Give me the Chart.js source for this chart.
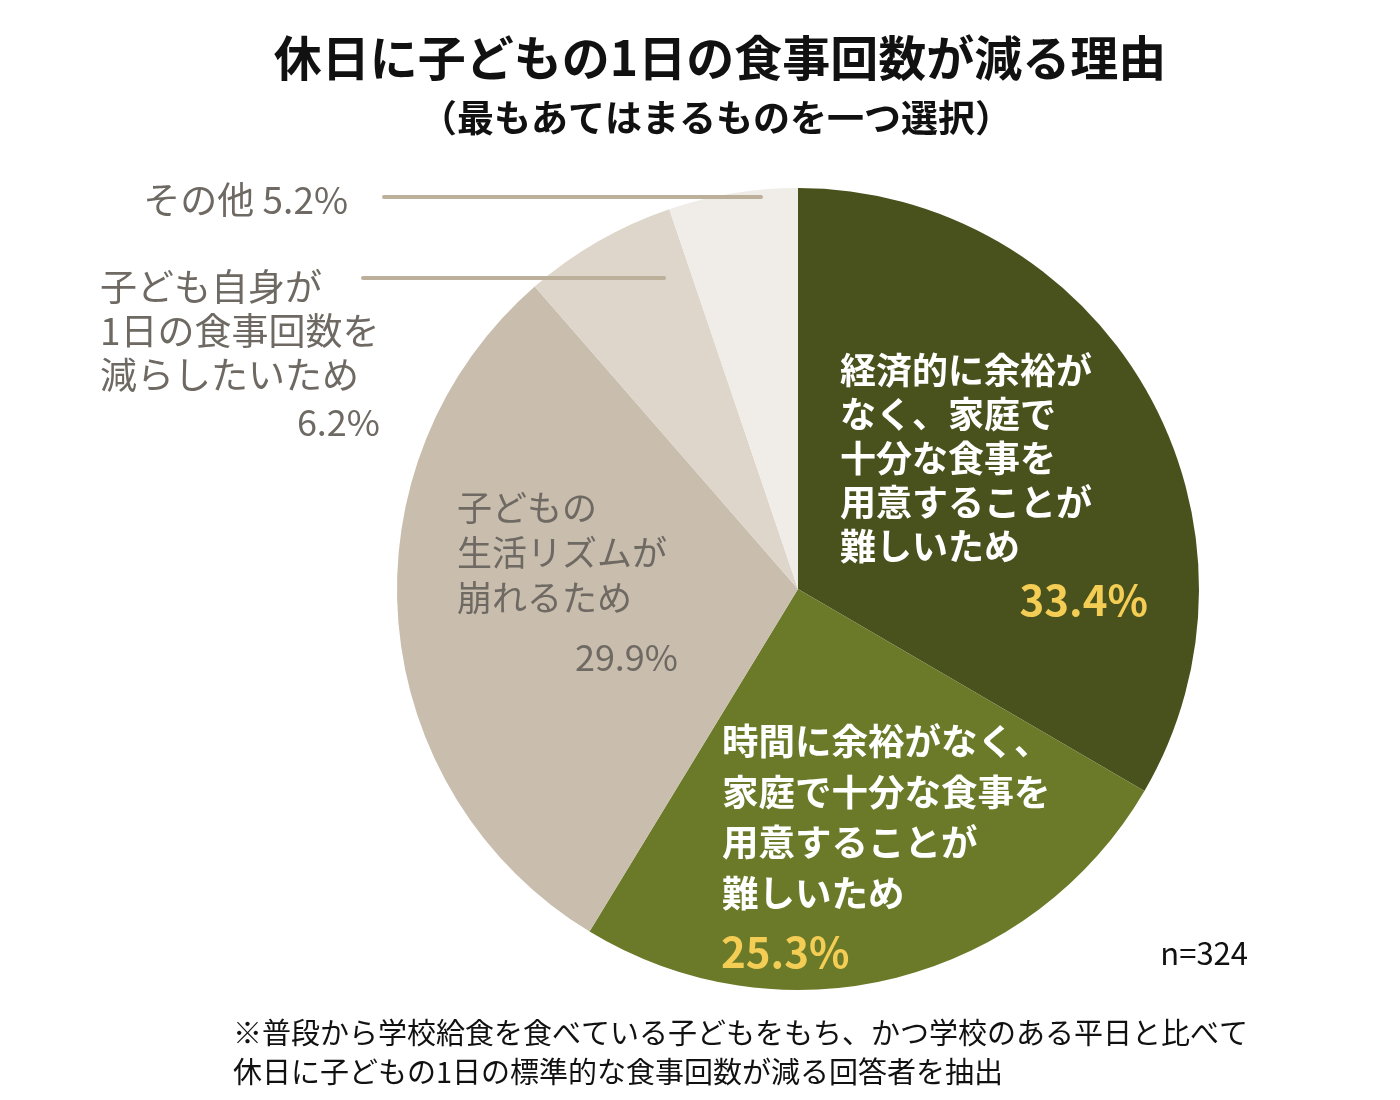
<!DOCTYPE html>
<html lang="ja">
<head>
<meta charset="utf-8">
<title>休日に子どもの1日の食事回数が減る理由</title>
<script src="https://cdn.jsdelivr.net/npm/chart.js@4.4.1/dist/chart.umd.min.js"></script>
<style>
  html, body { margin: 0; padding: 0; background: #fff; }
  #wrap { width: 1400px; height: 1100px; }
</style>
</head>
<body>
<div id="wrap"><canvas id="pie" width="1400" height="1100"></canvas></div>
<script>
// Data
const categories = [
    '経済的に余裕がなく、家庭で十分な食事を用意することが難しいため',
    '時間に余裕がなく、家庭で十分な食事を用意することが難しいため',
    '子どもの生活リズムが崩れるため',
    '子ども自身が1日の食事回数を減らしたいため',
    'その他'
];
const shares = [33.4, 25.3, 29.9, 6.2, 5.2];
const sliceColors = ['#49521d', '#6a7a28', '#c9bead', '#ded6ca', '#f0ede8'];

// Label lines as they are broken in the picture
const labelEconomic = ['経済的に余裕が', 'なく、家庭で', '十分な食事を', '用意することが', '難しいため'];
const labelTime = ['時間に余裕がなく、', '家庭で十分な食事を', '用意することが', '難しいため'];
const labelRhythm = ['子どもの', '生活リズムが', '崩れるため'];
const labelSelf = ['子ども自身が', '1日の食事回数を', '減らしたいため'];
const labelOther = 'その他';

const titleText = '休日に子どもの1日の食事回数が減る理由';
const subtitleText = '（最もあてはまるものを一つ選択）';
const sampleText = 'n=324';
const noteLines = [
    '※普段から学校給食を食べている子どもをもち、かつ学校のある平日と比べて',
    '休日に子どもの1日の標準的な食事回数が減る回答者を抽出'
];

const FONT = '"Noto Sans CJK JP", "Noto Sans", sans-serif';
const GREY = '#6f6963';
const YELLOW = '#f4cd55';
const LEADER = '#bdb09b';

function pct(v) {
    return v.toFixed(1) + '%';
}

function drawLines(ctx, lines, x, y, step) {
    lines.forEach((s, i) => ctx.fillText(s, x, y + i * step));
}

// Draws titles, slice labels, leader lines and notes
const annotate = {
    id: 'annotate',
    afterDraw(chart) {
        const ctx = chart.ctx;
        ctx.save();
        ctx.textBaseline = 'middle';

        // title
        ctx.fillStyle = '#111';
        ctx.textAlign = 'center';
        ctx.font = `bold 48px ${FONT}`;
        ctx.fillText(titleText, 720, 58);
        ctx.font = `bold 37px ${FONT}`;
        ctx.fillText(subtitleText, 716, 118);

        // leader lines for the small slices
        ctx.strokeStyle = LEADER;
        ctx.lineWidth = 4;
        ctx.lineCap = 'round';
        ctx.beginPath();
        ctx.moveTo(384, 197);
        ctx.lineTo(761, 197);
        ctx.moveTo(363, 278);
        ctx.lineTo(664, 278);
        ctx.stroke();

        // economic slice
        ctx.textAlign = 'left';
        ctx.fillStyle = '#fff';
        ctx.font = `bold 36px ${FONT}`;
        drawLines(ctx, labelEconomic, 840, 370, 44.2);
        ctx.fillStyle = YELLOW;
        ctx.textAlign = 'right';
        ctx.font = `bold 42px ${FONT}`;
        ctx.fillText(pct(shares[0]), 1148, 600);

        // time slice
        ctx.textAlign = 'left';
        ctx.fillStyle = '#fff';
        ctx.font = `bold 36.5px ${FONT}`;
        drawLines(ctx, labelTime, 722, 741, 50.8);
        ctx.fillStyle = YELLOW;
        ctx.font = `bold 42px ${FONT}`;
        ctx.fillText(pct(shares[1]), 721, 952);

        // rhythm slice
        ctx.fillStyle = GREY;
        ctx.font = `35px ${FONT}`;
        drawLines(ctx, labelRhythm, 457, 508, 45);
        ctx.textAlign = 'right';
        ctx.font = `36px ${FONT}`;
        ctx.fillText(pct(shares[2]), 678, 657);

        // outside labels
        ctx.font = `37px ${FONT}`;
        ctx.fillText(labelOther + ' ' + pct(shares[4]), 348, 200);
        ctx.textAlign = 'left';
        drawLines(ctx, labelSelf, 100, 287, 44);
        ctx.textAlign = 'right';
        ctx.font = `36px ${FONT}`;
        ctx.fillText(pct(shares[3]), 380, 422);

        // sample size and note
        ctx.fillStyle = '#111';
        ctx.font = `31px ${FONT}`;
        ctx.fillText(sampleText, 1248, 953);
        ctx.textAlign = 'left';
        ctx.font = `29px ${FONT}`;
        drawLines(ctx, noteLines, 233, 1033, 38.5);

        ctx.restore();
    }
};

new Chart(document.getElementById('pie'), {
    type: 'pie',
    data: {
        labels: categories,
        datasets: [{
            data: shares,
            backgroundColor: sliceColors,
            borderWidth: 0
        }]
    },
    options: {
        responsive: false,
        devicePixelRatio: 1,
        animation: false,
        layout: {
            padding: { left: 397, right: 201, top: 188, bottom: 110 }
        },
        plugins: {
            legend: { display: false },
            tooltip: { enabled: false },
            title: { display: false }
        }
    },
    plugins: [annotate]
});
</script>
</body>
</html>
